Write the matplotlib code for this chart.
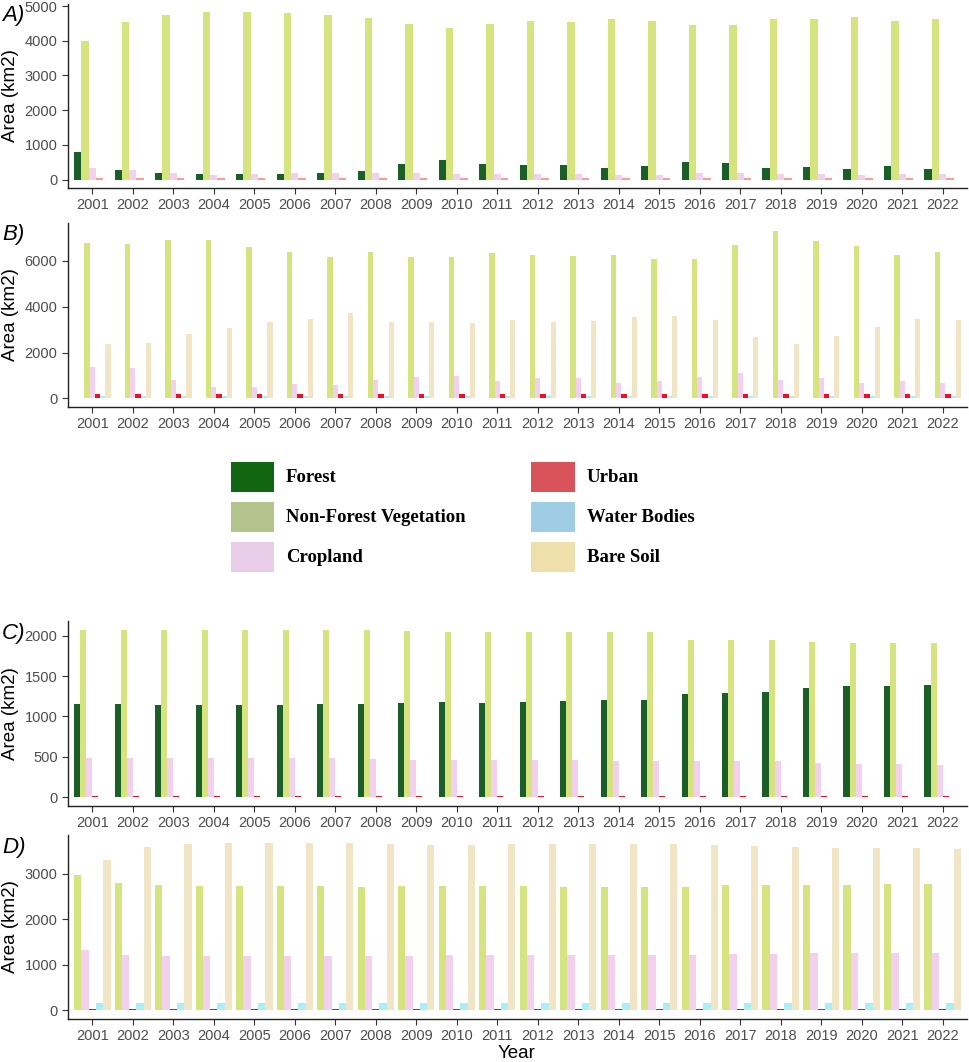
import matplotlib
matplotlib.use('Agg')
import matplotlib.pyplot as plt
from matplotlib.patches import Rectangle
import numpy as np

plt.rcParams['font.family'] = ['Liberation Sans', 'DejaVu Sans']

years = list(range(2001, 2023))

# panel A
a_forest = [798, 288, 202, 173, 154, 154, 202, 250, 442, 567, 461, 413, 432, 337, 394, 500, 480, 337, 355, 298, 394, 317]
a_nfv = [4006, 4544, 4736, 4823, 4823, 4794, 4736, 4669, 4486, 4370, 4495, 4563, 4544, 4640, 4582, 4467, 4467, 4640, 4621, 4679, 4582, 4640]
a_crop = [327, 280, 190, 140, 150, 180, 180, 200, 180, 170, 150, 163, 163, 144, 144, 183, 202, 163, 163, 144, 163, 163]
a_urban = [45, 45, 45, 45, 45, 45, 45, 45, 45, 45, 45, 45, 45, 45, 45, 45, 45, 45, 45, 45, 45, 45]

# panel B
b_nfv = [6769, 6725, 6914, 6914, 6608, 6405, 6186, 6405, 6186, 6157, 6332, 6274, 6215, 6274, 6084, 6084, 6696, 7307, 6856, 6667, 6245, 6376]
b_crop = [1354, 1325, 800, 509, 495, 626, 568, 786, 946, 990, 742, 873, 873, 655, 757, 932, 1121, 800, 873, 684, 757, 655]
b_urban = [189] * 22
b_water = [100] * 22
b_bare = [2373, 2416, 2795, 3071, 3348, 3464, 3712, 3319, 3319, 3290, 3406, 3319, 3377, 3537, 3610, 3435, 2664, 2373, 2737, 3100, 3450, 3435]

# panel C
c_forest = [1150, 1150, 1138, 1138, 1138, 1138, 1150, 1150, 1171, 1179, 1171, 1184, 1192, 1200, 1200, 1282, 1287, 1299, 1348, 1373, 1377, 1386]
c_nfv = [2066, 2066, 2074, 2074, 2074, 2074, 2066, 2066, 2058, 2049, 2049, 2049, 2049, 2041, 2041, 1951, 1951, 1942, 1922, 1905, 1905, 1905]
c_crop = [487, 487, 487, 487, 487, 487, 487, 474, 466, 466, 462, 462, 462, 454, 449, 454, 454, 454, 421, 408, 408, 400]
c_urban = [16] * 22
c_water = [5] * 22

# panel D
d_nfv = [2963, 2787, 2751, 2729, 2729, 2729, 2729, 2714, 2729, 2729, 2729, 2729, 2714, 2714, 2714, 2714, 2743, 2758, 2758, 2758, 2773, 2773]
d_crop = [1317, 1222, 1185, 1185, 1185, 1192, 1192, 1192, 1192, 1207, 1207, 1207, 1207, 1207, 1207, 1222, 1236, 1236, 1251, 1251, 1251, 1251]
d_urban = [29] * 22
d_water = [168] * 22
d_bare = [3307, 3577, 3643, 3665, 3665, 3665, 3665, 3650, 3636, 3636, 3643, 3643, 3643, 3643, 3643, 3628, 3599, 3584, 3570, 3570, 3555, 3541]

bar_colors = {'forest': '#1b5e27', 'nfv': '#d5e47f', 'crop': '#f3d1ee',
              'urban': '#ee1120', 'water': '#aaeef7', 'bare': '#f1e5c5'}

legend_names = ['Forest', 'Non-Forest Vegetation', 'Cropland', 'Urban', 'Water Bodies', 'Bare Soil']
legend_colors = ['#126612', '#b3c48c', '#e8cce8', '#d9545a', '#9fcde3', '#efdfaa']

# (label, axes box in px [top, bottom], slots, yticks)
panels = [
    ('A)', 3.8, 188, [('forest', a_forest), ('nfv', a_nfv), ('crop', a_crop), ('urban', a_urban), (None, None)],
     [0, 1000, 2000, 3000, 4000, 5000]),
    ('B)', 222.6, 406.7, [(None, None), (None, None), ('nfv', b_nfv), ('crop', b_crop), ('urban', b_urban),
                          ('water', b_water), ('bare', b_bare)],
     [0, 2000, 4000, 6000]),
    ('C)', 621.3, 805.7, [('forest', c_forest), ('nfv', c_nfv), ('crop', c_crop), ('urban', c_urban),
                          ('water', c_water), (None, None)],
     [0, 500, 1000, 1500, 2000]),
    ('D)', 835, 1018.7, [('nfv', d_nfv), ('crop', d_crop), ('urban', d_urban), ('water', d_water), ('bare', d_bare)],
     [0, 1000, 2000, 3000]),
]

W, H = 969, 1062
fig = plt.figure(figsize=(W / 100, H / 100), dpi=100)

x = np.arange(1, len(years) + 1)
for label, top, bot, slots, yticks in panels:
    ax = fig.add_axes([68 / W, 1 - bot / H, (967 - 68) / W, (bot - top) / H])
    n = len(slots)
    w = 0.9 / n
    vmax = 0
    for i, (key, vals) in enumerate(slots):
        if key is None:
            continue
        col = bar_colors[key]
        if label == 'A)' and key == 'urban':
            col = '#ff9a9a'
        off = (i - (n - 1) / 2) * w
        ax.bar(x + off, vals, width=w, color=col, linewidth=0)
        vmax = max(vmax, max(vals))
    ax.set_xlim(0.4, len(years) + 0.6)
    ax.set_ylim(-0.05 * vmax, 1.05 * vmax)
    ax.set_xticks(x)
    ax.set_xticklabels([str(y) for y in years])
    ax.set_yticks(yticks)
    ax.tick_params(axis='both', colors='#333333', labelcolor='#4d4d4d', labelsize=10.5, length=4, width=0.8)
    for s in ['top', 'right']:
        ax.spines[s].set_visible(False)
    for s in ['left', 'bottom']:
        ax.spines[s].set_color('#222222')
        ax.spines[s].set_linewidth(1.0)
    ax.set_ylabel('Area (km2)', fontsize=13.5, color='black', labelpad=4)
    fig.text(2 / W, 1 - (top + 12) / H, label, fontsize=16, style='italic', va='center', ha='left')

fig.text(517 / W, 1 - 1054 / H, 'Year', fontsize=13.5, ha='center', va='center')

# legend drawn as a separate block
col_x = [(230.7, 286), (531, 587)]
row_y = [477.3, 517.3, 557.3]
for k, (name, c) in enumerate(zip(legend_names, legend_colors)):
    cx, tx = col_x[k // 3]
    ry = row_y[k % 3]
    fig.patches.append(Rectangle((cx / W, 1 - (ry + 15) / H), 43.5 / W, 30 / H,
                                 transform=fig.transFigure, facecolor=c, edgecolor='none'))
    fig.text(tx / W, 1 - ry / H, name, fontsize=13.5, fontweight='bold', family='Liberation Serif',
             va='center', ha='left')

fig.savefig('out.png', dpi=100)
